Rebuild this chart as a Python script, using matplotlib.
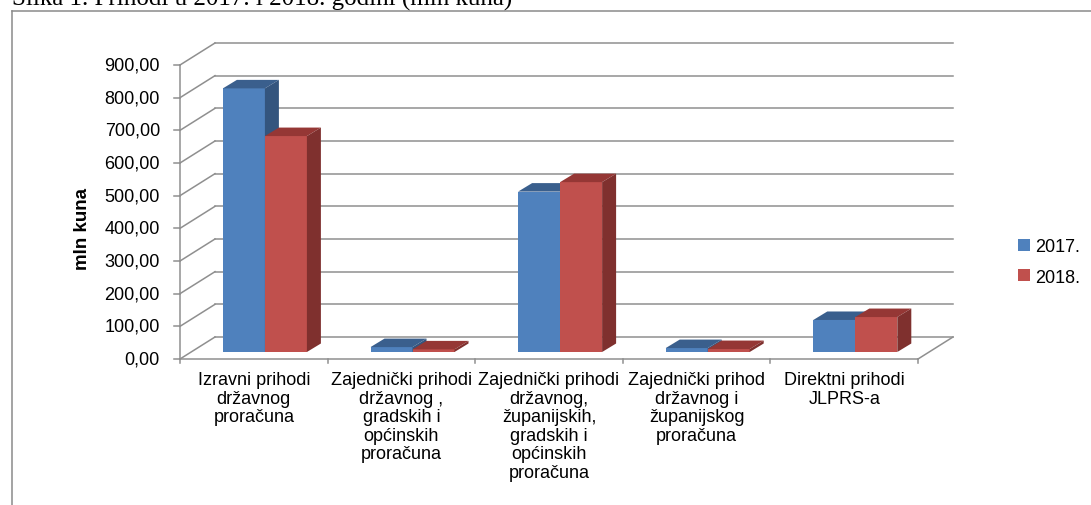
import matplotlib
matplotlib.use("Agg")
import matplotlib.pyplot as plt
from matplotlib.patches import Polygon
from matplotlib.lines import Line2D

# ---- data ----
categories = [
    "Izravni prihodi\ndržavnog\nproračuna",
    "Zajednički prihodi\ndržavnog ,\ngradskih i\nopćinskih\nproračuna",
    "Zajednički prihodi\ndržavnog,\nžupanijskih,\ngradskih i\nopćinskih\nproračuna",
    "Zajednički prihod\ndržavnog i\nžupanijskog\nproračuna",
    "Direktni prihodi\nJLPRS-a",
]
values_2017 = [807, 15, 491, 12, 98]
values_2018 = [661, 8, 520, 9, 107]
series_labels = ["2017.", "2018."]
y_ticks = [0, 100, 200, 300, 400, 500, 600, 700, 800, 900]
y_tick_labels = [f"{v:.2f}".replace(".", ",") for v in y_ticks]
y_label = "mln kuna"
caption = "Slika 1. Prihodi u 2017. i 2018. godini (mln kuna)"

# ---- geometry / styling ----
W, H = 1091, 506
fig = plt.figure(figsize=(W / 100, H / 100), dpi=100)
ax = fig.add_axes([0, 0, 1, 1])
ax.set_axis_off()

PX_PER_CAT = 147.6
PX_PER_VAL = 0.32667
X0_PX = 180.0      # left edge of category -0.5
Y0_PX = 360.0      # value 0 (from top)
ax.set_xlim(-0.5 - X0_PX / PX_PER_CAT, -0.5 + (W - X0_PX) / PX_PER_CAT)
ax.set_ylim(-(H - Y0_PX) / PX_PER_VAL, Y0_PX / PX_PER_VAL)

DXB = 35 / PX_PER_CAT      # back wall depth offset
DYB = 22 / PX_PER_VAL
BDX = 14 / PX_PER_CAT      # bar depth
BDY = 8.5 / PX_PER_VAL
FDX = 11.1 / PX_PER_CAT    # bar front-face position in depth
FDY = 7 / PX_PER_VAL
BW = 42 / PX_PER_CAT

grid_c = "#8f8f8f"
glw = 1.1
n = len(categories)
xl, xr = -0.5, n - 0.5

# back wall gridlines and left wall diagonals
for v in y_ticks:
    ax.plot([xl + DXB, xr + DXB], [v + DYB, v + DYB], color=grid_c, lw=glw, zorder=1)
    ax.plot([xl, xl + DXB], [v, v + DYB], color=grid_c, lw=glw, zorder=1)
    ax.plot([xl - 6 / PX_PER_CAT, xl], [v, v], color=grid_c, lw=glw, zorder=1)
# floor right edge
ax.plot([xr, xr + DXB], [0, DYB], color=grid_c, lw=glw, zorder=1)
# front axes
ax.plot([xl, xl], [0, y_ticks[-1]], color=grid_c, lw=glw, zorder=1)
ax.plot([xl, xr], [0, 0], color=grid_c, lw=glw, zorder=1)
for i in range(n + 1):
    ax.plot([xl + i, xl + i], [0, -4 / PX_PER_VAL], color=grid_c, lw=glw, zorder=1)

# y tick labels
for v, lab in zip(y_ticks, y_tick_labels):
    ax.text(xl - 20 / PX_PER_CAT, v, lab, ha="right", va="center",
            fontsize=13, family="Liberation Sans", color="#000000")
ax.text(xl - 97 / PX_PER_CAT, (Y0_PX - 229) / PX_PER_VAL, y_label, rotation=90,
        ha="center", va="center", fontsize=13.5, fontweight="bold",
        family="Liberation Sans")

# category labels
for i, lab in enumerate(categories):
    ax.text(i, -12 / PX_PER_VAL, lab, ha="center", va="top", fontsize=13,
            family="Liberation Sans", linespacing=1.12, multialignment="center")

# bars
colors = [("#4F81BD", "#3A5F8D", "#34557E"), ("#C0504D", "#953735", "#7F302E")]
series = [values_2017, values_2018]
handles = []
for s, vals in enumerate(series):
    front, top, side = colors[s]
    x_left = [i + FDX - BW + s * BW for i in range(n)]
    bars = ax.bar(x_left, vals, width=BW, bottom=FDY, align="edge",
                  color=front, edgecolor="none", zorder=3 + s * 2,
                  label=series_labels[s])
    handles.append(bars)
    for i, v in enumerate(vals):
        x0 = x_left[i]
        x1 = x0 + BW
        yb = FDY
        yt = FDY + v
        ax.add_patch(Polygon([(x0, yt), (x1, yt), (x1 + BDX, yt + BDY), (x0 + BDX, yt + BDY)],
                             closed=True, facecolor=top, edgecolor="none", zorder=3 + s * 2))
        ax.add_patch(Polygon([(x1, yb), (x1 + BDX, yb + BDY), (x1 + BDX, yt + BDY), (x1, yt)],
                             closed=True, facecolor=side, edgecolor="none", zorder=3 + s * 2))

leg = ax.legend(handles=handles, loc="center left",
                bbox_to_anchor=(1018 / W, 1 - 263 / H), bbox_transform=fig.transFigure,
                frameon=False, prop={"family": "Liberation Sans", "size": 13},
                handlelength=0.65, handleheight=0.65, handletextpad=0.3,
                labelspacing=0.75, borderpad=0, borderaxespad=0)

# outer frame
fc = "#8a8a8a"
fig.add_artist(Line2D([12 / W, 12 / W], [0, 1 - 12 / H], transform=fig.transFigure,
                      color=fc, lw=1.1))
fig.add_artist(Line2D([12 / W, 1], [1 - 12 / H, 1 - 12 / H], transform=fig.transFigure,
                      color=fc, lw=1.1))

# caption (partly cut off at the top, as in the source page)
fig.text(12 / W, 1 - 6 / H, caption, ha="left", va="baseline", fontsize=18,
         family="Liberation Serif")

fig.savefig("out.png", dpi=100)
